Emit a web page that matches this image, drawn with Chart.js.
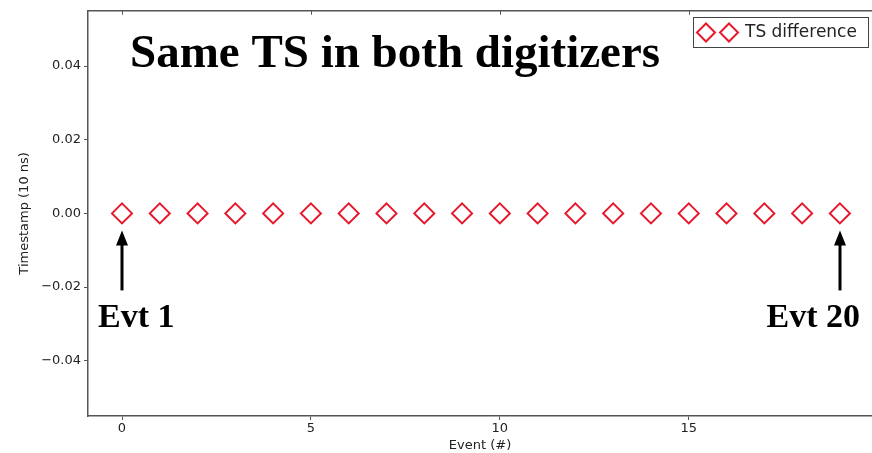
<!DOCTYPE html>
<html>
<head>
<meta charset="utf-8">
<script src="https://cdn.jsdelivr.net/npm/chart.js@4.4.1/dist/chart.umd.min.js"></script>
<style>
  html, body { margin: 0; padding: 0; background: #fff; overflow: hidden; }
  #wrap { position: relative; width: 872px; height: 453px; }
</style>
</head>
<body>
<div id="wrap"><canvas id="tsChart" width="872" height="453"></canvas></div>
<script>
// Event index (0-based) and timestamp difference between the two digitizers
const events = [0, 1, 2, 3, 4, 5, 6, 7, 8, 9, 10, 11, 12, 13, 14, 15, 16, 17, 18, 19];
const tsDiff = [0, 0, 0, 0, 0, 0, 0, 0, 0, 0, 0, 0, 0, 0, 0, 0, 0, 0, 0, 0];
const xTicks = [0, 5, 10, 15];
const yTicks = [-0.04, -0.02, 0, 0.02, 0.04];

const red = 'rgb(232, 24, 44)';
const frame = '#555';

function diamond(ctx, cx, cy, r) {
  ctx.beginPath();
  ctx.moveTo(cx, cy - r); ctx.lineTo(cx + r, cy);
  ctx.lineTo(cx, cy + r); ctx.lineTo(cx - r, cy);
  ctx.closePath();
  ctx.stroke();
}

// Top border + legend with two markers + text annotations and arrows
const extras = {
  id: 'extras',
  afterDraw(chart) {
    const { ctx, chartArea: a, scales: { x, y } } = chart;
    ctx.save();

    // top spine with inward tick marks
    ctx.strokeStyle = frame;
    ctx.lineWidth = 1.5;
    ctx.beginPath();
    ctx.moveTo(a.left, a.top);
    ctx.lineTo(a.right, a.top);
    ctx.stroke();
    ctx.lineWidth = 1;
    ctx.beginPath();
    xTicks.forEach(v => {
      const px = Math.round(x.getPixelForValue(v)) + 0.5;
      ctx.moveTo(px, a.top);
      ctx.lineTo(px, a.top + 4);
    });
    ctx.stroke();

    // legend box
    ctx.fillStyle = '#fff';
    ctx.strokeStyle = '#444';
    ctx.lineWidth = 1;
    ctx.fillRect(693.5, 17.5, 175, 30);
    ctx.strokeRect(693.5, 17.5, 175, 30);
    ctx.strokeStyle = red;
    ctx.lineWidth = 2;
    diamond(ctx, 706, 32.5, 9);
    diamond(ctx, 729, 32.5, 9);
    ctx.fillStyle = '#222';
    ctx.font = '17px "DejaVu Sans"';
    ctx.textBaseline = 'middle';
    ctx.textAlign = 'left';
    ctx.fillText('TS difference', 745, 33);

    // big annotations
    ctx.fillStyle = '#000';
    ctx.textBaseline = 'alphabetic';
    ctx.font = 'bold 47px "Liberation Serif"';
    ctx.fillText('Same TS in both digitizers', 130, 67);
    ctx.font = 'bold 34px "Liberation Serif"';
    ctx.fillText('Evt 1', 98, 327);
    ctx.textAlign = 'right';
    ctx.fillText('Evt 20', 860, 327);

    // arrows pointing at first and last event
    [events[0], events[events.length - 1]].forEach(ev => {
      const px = Math.round(x.getPixelForValue(ev));
      const tip = y.getPixelForValue(0) + 17;
      ctx.strokeStyle = '#000';
      ctx.lineWidth = 3;
      ctx.beginPath();
      ctx.moveTo(px, tip + 10);
      ctx.lineTo(px, tip + 60);
      ctx.stroke();
      ctx.beginPath();
      ctx.moveTo(px, tip);
      ctx.lineTo(px - 6, tip + 15);
      ctx.lineTo(px + 6, tip + 15);
      ctx.closePath();
      ctx.fill();
    });

    ctx.restore();
  }
};

new Chart(document.getElementById('tsChart'), {
  type: 'scatter',
  data: {
    datasets: [{
      label: 'TS difference',
      data: events.map((e, i) => ({ x: e, y: tsDiff[i] })),
      pointStyle: 'rectRot',
      pointRadius: 10,
      pointHoverRadius: 10,
      borderColor: red,
      backgroundColor: 'rgba(0,0,0,0)',
      borderWidth: 2,
    }],
  },
  options: {
    responsive: false,
    animation: false,
    layout: { autoPadding: false, padding: { top: 9, right: 0, left: 0, bottom: 0 } },
    plugins: { legend: { display: false }, tooltip: { enabled: false } },
    scales: {
      x: {
        type: 'linear',
        min: -0.9,
        max: 19.85,
        afterBuildTicks: s => { s.ticks = xTicks.map(v => ({ value: v })); },
        afterFit: s => { s.height = 37; },
        grid: { drawOnChartArea: false, tickLength: 4, color: frame },
        border: { color: frame, width: 1.5 },
        ticks: { color: '#222', font: { family: 'DejaVu Sans', size: 13 }, padding: 1, maxRotation: 0 },
        title: { display: true, text: 'Event (#)', color: '#222', font: { family: 'DejaVu Sans', size: 13 }, padding: 0 },
      },
      y: {
        min: -0.055,
        max: 0.055,
        afterBuildTicks: s => { s.ticks = yTicks.map(v => ({ value: v })); },
        afterFit: s => { s.width = 88; },
        grid: { drawOnChartArea: false, tickLength: 4, color: frame },
        border: { color: frame, width: 1.5 },
        ticks: {
          color: '#222',
          font: { family: 'DejaVu Sans', size: 13 },
          padding: 3,
          callback: v => (v < 0 ? '\u2212' : '') + Math.abs(v).toFixed(2),
        },
        title: { display: true, text: 'Timestamp (10 ns)', color: '#222', font: { family: 'DejaVu Sans', size: 13 }, padding: { top: 17, bottom: 8 } },
      },
    },
  },
  plugins: [extras],
});
</script>
</body>
</html>
